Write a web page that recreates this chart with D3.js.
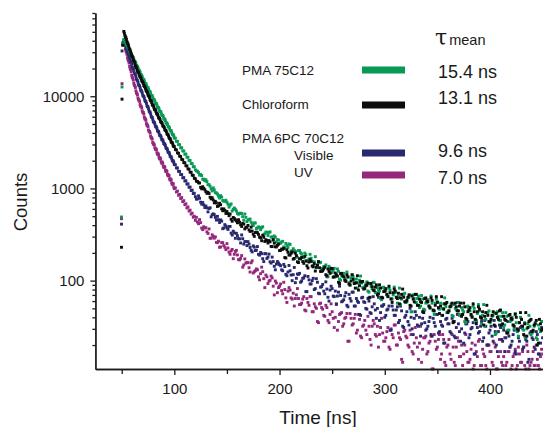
<!DOCTYPE html>
<html>
<head>
<meta charset="utf-8">
<script src="https://cdn.jsdelivr.net/npm/d3@7"></script>
<style>
    html, body { margin: 0; padding: 0; background: #fff; }
    svg { display: block; font-family: "Liberation Sans", Arial, sans-serif; }
    .axis path, .axis line { stroke: #1a1a1a; stroke-width: 1.3; }
    .axis text { font-size: 15px; fill: #1a1a1a; font-family: "Liberation Sans", Arial, sans-serif; }
</style>
</head>
<body>
<div id="chart"></div>
<script>
// time channels (ns): rising edge, 1 ns steps to 200, then even ns
const times = [49.8, 50.3, 51,
    52, 53, 54, 55, 56, 57, 58, 59, 60, 61, 62, 63, 64, 65, 66, 67, 68, 69, 70, 71, 72, 73, 74, 75, 76, 77, 78, 79, 80,
    81, 82, 83, 84, 85, 86, 87, 88, 89, 90, 91, 92, 93, 94, 95, 96, 97, 98, 99, 100, 101, 102, 103, 104, 105, 106, 107,
    108, 109, 110, 111, 112, 113, 114, 115, 116, 117, 118, 119, 120,
    121, 122, 123, 124, 125, 126, 127, 128, 129, 130, 131, 132, 133, 134, 135, 136, 137, 138, 139, 140,
    141, 142, 143, 144, 145, 146, 147, 148, 149, 150, 151, 152, 153, 154, 155, 156, 157, 158, 159, 160,
    161, 162, 163, 164, 165, 166, 167, 168, 169, 170, 171, 172, 173, 174, 175, 176, 177, 178, 179, 180,
    181, 182, 183, 184, 185, 186, 187, 188, 189, 190, 191, 192, 193, 194, 195, 196, 197, 198, 199, 200,
    202, 204, 206, 208, 210, 212, 214, 216, 218, 220, 222, 224, 226, 228, 230, 232, 234, 236, 238, 240,
    242, 244, 246, 248, 250, 252, 254, 256, 258, 260, 262, 264, 266, 268, 270, 272, 274, 276, 278, 280,
    282, 284, 286, 288, 290, 292, 294, 296, 298, 300, 302, 304, 306, 308, 310, 312, 314, 316, 318, 320,
    322, 324, 326, 328, 330, 332, 334, 336, 338, 340, 342, 344, 346, 348, 350, 352, 354, 356, 358, 360,
    362, 364, 366, 368, 370, 372, 374, 376, 378, 380, 382, 384, 386, 388, 390, 392, 394, 396, 398, 400,
    402, 404, 406, 408, 410, 412, 414, 416, 418, 420, 422, 424, 426, 428, 430, 432, 434, 436, 438, 440,
    442, 444, 446, 448, 450];

const greenCounts = [490, 12600, 37000,
    41500, 40200, 37300, 36100, 33500, 32500, 30000, 29200, 27000, 26200, 24100, 23500, 21600, 21100, 19400, 18900, 17300, 16900,
    15500, 15200, 13950, 13700, 12600, 12400, 11350, 11200, 10250, 10100, 9300, 9150, 8420, 8300, 7640, 7520, 6920, 6830, 6280,
    6210, 5700, 5640, 5170, 5120, 4700, 4650, 4260, 4230, 3880, 3840, 3520, 3510, 3250, 3240, 2990, 2980, 2760, 2760, 2550, 2550,
    2350, 2360, 2180, 2180, 2010, 2010, 1860, 1860, 1720, 1720, 1595,
    1546, 1539, 1484, 1394, 1415, 1379, 1257, 1261, 1211, 1244, 1186, 1098, 1099, 1056, 989, 940, 1015, 962, 899, 894,
    870, 826, 787, 835, 805, 739, 728, 727, 745, 709, 674, 627, 658, 679, 569, 593, 614, 595, 571, 536,
    525, 537, 539, 535, 494, 452, 528, 486, 437, 454, 460, 466, 430, 410, 396, 422, 422, 367, 373, 383,
    378, 357, 375, 384, 316, 322, 336, 335, 309, 333, 338, 297, 298, 273, 305, 296, 262, 278, 276, 254,
    263, 232, 253, 230, 247, 208, 213, 183, 212, 200, 181, 199, 165, 172, 175, 145, 182, 148, 156, 135,
    142, 148, 110, 133, 123, 136, 113, 126, 101, 115, 107, 124, 95, 107, 110, 94, 83, 101, 94, 84,
    92, 77, 93, 82, 95, 74, 80, 64, 84, 78, 70, 83, 64, 70, 74, 57, 83, 63, 71, 58,
    65, 70, 46, 64, 58, 68, 53, 63, 48, 58, 53, 68, 47, 57, 59, 49, 42, 56, 52, 46,
    52, 42, 55, 48, 58, 43, 48, 36, 52, 49, 42, 53, 38, 44, 47, 34, 55, 38, 45, 35,
    41, 45, 27, 41, 37, 45, 33, 41, 29, 37, 33, 44, 28, 35, 38, 29, 24, 34, 32, 27,
    32, 24, 33, 28, 36];

const blackCounts = [230, 9300, 35800,
    50500, 45800, 43300, 39100, 37000, 33400, 31700, 28700, 27100, 24700, 23600, 21500, 20500, 18700, 18050, 16600, 16050, 14750,
    14250, 13100, 12680, 11640, 11260, 10330, 10010, 9170, 8890, 8140, 7900, 7270, 7100, 6540, 6370, 5880, 5750, 5310, 5200,
    4800, 4700, 4340, 4250, 3920, 3840, 3550, 3470, 3205, 3140, 2900, 2840, 2645, 2615, 2435, 2405, 2245, 2220, 2070, 2050,
    1910, 1895, 1765, 1750, 1630, 1615, 1505, 1495, 1395, 1385, 1290, 1275,
    1197, 1192, 1152, 1146, 1028, 990, 1044, 1002, 968, 924, 884, 908, 881, 803, 771, 794, 750, 698, 724, 696,
    638, 649, 691, 666, 601, 573, 600, 578, 536, 562, 534, 506, 527, 463, 441, 484, 474, 457, 444, 424,
    458, 430, 404, 387, 418, 410, 364, 377, 380, 397, 355, 342, 380, 345, 319, 302, 332, 336, 331, 317,
    296, 291, 271, 310, 295, 266, 278, 272, 256, 272, 264, 235, 234, 279, 255, 233, 232, 241, 249, 212,
    220, 224, 176, 203, 189, 204, 174, 187, 157, 173, 161, 183, 145, 159, 162, 141, 127, 147, 138, 126,
    134, 116, 134, 120, 135, 110, 116, 96, 119, 112, 101, 116, 92, 99, 103, 83, 113, 88, 97, 81,
    88, 94, 66, 86, 78, 90, 72, 83, 65, 77, 71, 87, 63, 74, 77, 64, 56, 71, 66, 59,
    66, 54, 68, 59, 71, 54, 59, 46, 64, 60, 53, 65, 48, 54, 58, 44, 67, 49, 56, 45,
    52, 57, 36, 52, 47, 57, 43, 52, 38, 48, 43, 56, 38, 46, 49, 39, 33, 45, 42, 36,
    42, 33, 44, 38, 48, 34, 38, 27, 42, 39, 33, 43, 30, 35, 38, 26, 45, 31, 37, 28,
    33, 37, 21, 34, 30];

const blueCounts = [410, 31000, 38000,
    40300, 38300, 34300, 32500, 29000, 27600, 24600, 23400, 20800, 19950, 17900, 17150, 15400, 14780, 13380, 12950, 11720, 11360,
    10270, 9960, 9010, 8730, 7890, 7660, 6920, 6720, 6060, 5890, 5320, 5210, 4740, 4650, 4230, 4150, 3790, 3730, 3410, 3360,
    3070, 3030, 2760, 2720, 2490, 2450, 2240, 2205, 2015, 1985, 1815, 1805, 1670, 1665, 1535, 1530, 1415, 1415, 1305, 1310,
    1205, 1210, 1115, 1120, 1030, 1035, 950, 958, 880, 887, 815,
    766, 770, 831, 782, 710, 675, 704, 663, 621, 645, 616, 557, 605, 617, 492, 519, 530, 520, 485, 454,
    498, 458, 427, 456, 442, 366, 373, 405, 391, 373, 359, 387, 387, 328, 312, 344, 329, 288, 326, 307,
    285, 284, 256, 313, 285, 249, 265, 265, 240, 265, 249, 229, 213, 205, 238, 231, 212, 214, 234, 193,
    189, 202, 196, 173, 161, 196, 196, 174, 180, 194, 160, 155, 180, 161, 143, 131, 151, 161, 155, 149,
    131, 150, 117, 124, 128, 100, 139, 106, 117, 96, 106, 113, 76, 102, 92, 106, 82, 96, 72, 86,
    77, 97, 66, 79, 82, 67, 56, 75, 69, 60, 68, 54, 71, 60, 75, 53, 60, 43, 65, 59,
    50, 64, 45, 52, 56, 39, 66, 45, 53, 40, 48, 53, 29, 48, 42, 52, 37, 47, 31, 42,
    36, 50, 30, 39, 42, 32, 25, 39, 35, 30, 36, 26, 39, 32, 43, 28, 33, 21, 38, 34,
    28, 39, 25, 31, 34, 22, 43, 27, 34, 24, 30, 35, 16, 31, 28, 36, 24, 32, 20, 29,
    25, 37, 20, 28, 31, 22, 17, 28, 25, 20, 26, 17, 28, 22, 32, 19, 23, 13, 27, 24,
    19, 28, 16, 21, 24];

const magentaCounts = [470, 13700, 36000,
    38500, 35600, 30900, 28500, 24800, 22900, 19900, 18400, 16000, 15000, 13200, 12450, 10850, 10300, 9150, 8780, 7790, 7500,
    6690, 6400, 5680, 5480, 4850, 4680, 4150, 3990, 3530, 3420, 3020, 2960, 2660, 2620, 2350, 2320, 2090, 2090, 1880, 1880,
    1690, 1700, 1520, 1530, 1370, 1380, 1230, 1240, 1105, 1120, 995, 1015, 915, 935, 843, 862, 778, 797, 720, 737,
    666, 681, 615, 630, 569, 582, 527, 539, 487, 499, 451,
    486, 433, 414, 459, 426, 372, 357, 384, 372, 375, 338, 325, 364, 288, 289, 314, 302, 289, 298, 260,
    258, 268, 230, 232, 259, 258, 240, 230, 217, 252, 226, 204, 193, 210, 218, 173, 193, 207, 213, 190,
    169, 168, 174, 187, 140, 148, 172, 155, 157, 157, 138, 124, 156, 164, 121, 125, 128, 134, 131, 110,
    102, 119, 140, 125, 105, 84, 115, 110, 93, 99, 101, 112, 107, 87, 70, 99, 94, 74, 84, 87,
    78, 96, 65, 77, 79, 63, 53, 70, 64, 55, 63, 48, 64, 54, 67, 46, 52, 36, 56, 51,
    42, 54, 37, 43, 46, 31, 55, 36, 44, 32, 39, 44, 22, 39, 34, 43, 29, 38, 24, 33,
    29, 41, 23, 32, 34, 25, 19, 31, 27, 22, 28, 19, 30, 24, 33, 20, 24, 14, 28, 25,
    20, 29, 17, 21, 24, 14, 32, 18, 24, 16, 21, 25, 11, 22, 19, 26, 16, 23, 12, 20,
    16, 26, 13, 19, 22, 15, 12, 20, 17, 13, 18, 11, 20, 15, 23, 12, 16, 12, 20, 17,
    13, 21, 11, 15, 17, 12, 24, 13, 17, 11, 15, 18, 12, 16, 13, 19, 11, 17, 12, 14,
    12, 20, 12, 15, 16];

// extra half-ns channels on the steep early part of the decay
const halfTimes = [52.5, 53.5, 54.5, 55.5, 56.5, 57.5, 58.5, 59.5, 60.5, 61.5, 62.5, 63.5, 64.5, 65.5, 66.5, 67.5,
    68.5, 69.5, 70.5, 71.5, 72.5, 73.5, 74.5, 75.5, 76.5, 77.5, 78.5, 79.5, 80.5, 81.5, 82.5, 83.5,
    84.5, 85.5, 86.5, 87.5, 88.5, 89.5, 90.5, 91.5, 92.5, 93.5, 94.5, 95.5, 96.5, 97.5, 98.5, 99.5];

const greenHalf = [40600, 39000, 36500, 35000, 32800, 31400, 29400, 28300, 26400, 25300, 23700, 22700, 21200, 20350, 19000, 18200,
    16980, 16270, 15220, 14660, 13740, 13230, 12410, 11950, 11200, 10800, 10130, 9760, 9160, 8840, 8300, 8020,
    7530, 7270, 6830, 6600, 6200, 6000, 5630, 5450, 5110, 4950, 4640, 4490, 4220, 4080, 3830, 3700];

const blackHalf = [48400, 44200, 41400, 37800, 35400, 32350, 30300, 27700, 26050, 24000, 22650, 20900, 19730, 18280, 17430, 16240,
    15480, 14420, 13750, 12810, 12220, 11380, 10850, 10110, 9640, 8980, 8560, 7970, 7630, 7150, 6850, 6420,
    6160, 5780, 5560, 5220, 5030, 4720, 4550, 4270, 4110, 3860, 3710, 3490, 3360, 3150, 3040, 2850];

const blueHalf = [39000, 36500, 33100, 30900, 28050, 26200, 23760, 22200, 20220, 19030, 17400, 16380, 14980, 14160, 13070, 12410,
    11450, 10880, 10040, 9540, 8810, 8360, 7720, 7330, 6770, 6430, 5930, 5640, 5230, 5010, 4660, 4460,
    4160, 3990, 3740, 3590, 3360, 3230, 3030, 2910, 2720, 2620, 2450, 2360, 2205, 2125, 1985, 1915];

const magentaHalf = [37400, 32600, 30100, 26200, 24200, 21050, 19450, 16900, 15750, 13870, 13020, 11450, 10760, 9540, 9110, 8140,
    7790, 6950, 6660, 5930, 5690, 5060, 4860, 4310, 4150, 3690, 3550, 3150, 3050, 2760, 2700, 2440,
    2390, 2170, 2140, 1950, 1930, 1750, 1730, 1580, 1560, 1420, 1400, 1275, 1265, 1150, 1130, 1035];

// odd-ns channels of the tail
const oddTimes = [201, 203, 205, 207, 209, 211, 213, 215, 217, 219, 221, 223, 225, 227, 229, 231, 233, 235, 237, 239,
    241, 243, 245, 247, 249, 251, 253, 255, 257, 259, 261, 263, 265, 267, 269, 271, 273, 275, 277, 279,
    281, 283, 285, 287, 289, 291, 293, 295, 297, 299, 301, 303, 305, 307, 309, 311, 313, 315, 317, 319,
    321, 323, 325, 327, 329, 331, 333, 335, 337, 339, 341, 343, 345, 347, 349, 351, 353, 355, 357, 359,
    361, 363, 365, 367, 369, 371, 373, 375, 377, 379, 381, 383, 385, 387, 389, 391, 393, 395, 397, 399,
    401, 403, 405, 407, 409, 411, 413, 415, 417, 419, 421, 423, 425, 427, 429, 431, 433, 435, 437, 439,
    441, 443, 445, 447, 449];

const greenOdd = [255, 267, 226, 240, 250, 210, 222, 208, 179, 212, 195, 177, 191, 161, 193, 161, 160, 138, 158, 158,
    136, 142, 110, 143, 124, 130, 110, 134, 104, 114, 120, 101, 109, 89, 115, 96, 104, 94, 112, 84,
    86, 97, 75, 87, 96, 74, 84, 77, 62, 85, 77, 68, 79, 63, 85, 66, 68, 55, 70, 73,
    59, 66, 46, 70, 58, 64, 51, 69, 49, 57, 62, 50, 57, 43, 63, 50, 57, 50, 65, 45,
    47, 56, 41, 50, 58, 42, 51, 46, 35, 53, 47, 41, 50, 37, 55, 41, 42, 32, 45, 47,
    37, 42, 26, 46, 37, 41, 31, 45, 29, 36, 40, 30, 35, 25, 40, 30, 35, 30, 42, 26,
    28, 35, 23, 30, 36];

const blackOdd = [213, 219, 178, 216, 190, 198, 171, 199, 160, 172, 179, 154, 163, 137, 168, 144, 153, 140, 161, 126,
    128, 140, 113, 126, 136, 109, 121, 112, 93, 120, 110, 98, 110, 90, 116, 93, 95, 79, 97, 98,
    82, 89, 65, 93, 79, 85, 70, 90, 66, 76, 82, 67, 74, 58, 81, 66, 73, 65, 81, 59,
    61, 70, 53, 63, 71, 54, 63, 58, 45, 65, 59, 51, 61, 47, 67, 51, 53, 42, 56, 58,
    47, 53, 35, 57, 47, 53, 41, 57, 39, 46, 51, 40, 46, 34, 52, 40, 46, 41, 54, 36,
    38, 46, 32, 40, 47, 33, 41, 37, 27, 43, 38, 32, 40, 29, 45, 32, 34, 25, 36, 38,
    29, 34, 20, 38, 29];

const blueOdd = [145, 128, 142, 113, 146, 115, 116, 95, 118, 120, 99, 107, 76, 111, 92, 100, 80, 105, 73, 85,
    91, 72, 81, 60, 87, 68, 77, 68, 87, 59, 62, 74, 52, 64, 75, 53, 64, 58, 42, 66,
    58, 49, 60, 44, 67, 48, 50, 37, 53, 55, 42, 49, 29, 53, 42, 48, 35, 53, 32, 40,
    46, 33, 40, 26, 46, 33, 40, 34, 48, 29, 32, 40, 25, 35, 43, 27, 36, 32, 21, 39,
    34, 27, 36, 24, 43, 28, 30, 21, 34, 36, 26, 31, 16, 36, 27, 32, 22, 37, 20, 27,
    32, 22, 28, 17, 33, 23, 29, 24, 36, 19, 22, 29, 16, 24, 31, 18, 25, 22, 14, 28,
    23, 18, 26, 16, 31];

const magentaOdd = [92, 72, 80, 58, 84, 65, 73, 64, 82, 55, 57, 67, 47, 58, 67, 46, 56, 50, 35, 57,
    49, 41, 51, 35, 56, 39, 40, 29, 43, 45, 34, 40, 22, 44, 33, 39, 27, 43, 25, 32,
    37, 26, 32, 20, 37, 26, 32, 26, 39, 22, 24, 31, 18, 26, 33, 20, 27, 23, 13, 29,
    24, 19, 26, 16, 31, 19, 21, 13, 24, 25, 17, 22, 11, 26, 18, 23, 14, 26, 13, 19,
    23, 14, 19, 12, 24, 15, 20, 16, 26, 13, 14, 21, 12, 17, 22, 12, 18, 15, 11, 20,
    17, 12, 19, 11, 23, 13, 15, 12, 17, 19, 12, 16, 11, 19, 13, 17, 12, 20, 11, 13,
    17, 12, 14, 11, 18];

const xMajorTicks = [100, 200, 300, 400];
const xMinorTicks = [50, 150, 250, 350];
const yMajorTicks = [100, 1000, 10000];

const legendNames = ["PMA 75C12", "Chloroform", "PMA 6PC 70C12", "Visible", "UV"];
const tauLabels = ["15.4 ns", "13.1 ns", "9.6 ns", "7.0 ns"];

(() => {
    const width = 543, height = 427, margin = { top: 13, right: 0.4, bottom: 58, left: 95.4 };

    document.addEventListener("DOMContentLoaded", () => {
        const series = [
            { name: "UV", color: "#93287d", counts: magentaCounts, half: magentaHalf, odd: magentaOdd },
            { name: "Visible", color: "#29296f", counts: blueCounts, half: blueHalf, odd: blueOdd },
            { name: "PMA 75C12", color: "#079a55", counts: greenCounts, half: greenHalf, odd: greenOdd },
            { name: "Chloroform", color: "#0d0d0d", counts: blackCounts, half: blackHalf, odd: blackOdd }
        ];

        const x = d3.scaleLinear()
            .domain([25, 450])
            .range([margin.left, width - margin.right]);

        const y = d3.scaleLog()
            .domain([11, 80000])
            .range([height - margin.bottom, margin.top]);

        const svg = d3.select("#chart")
            .append("svg")
            .attr("width", width)
            .attr("height", height);

        // data points first, axes on top
        const size = 2.9;
        series.forEach(s => {
            const pts = times.map((t, i) => ({ t, v: s.counts[i] }))
                .concat(halfTimes.map((t, i) => ({ t, v: s.half[i] })))
                .concat(oddTimes.map((t, i) => ({ t, v: s.odd[i] })));

            svg.append("g")
                .selectAll("rect")
                .data(pts)
                .enter()
                .append("rect")
                .attr("x", d => x(d.t) - size / 2)
                .attr("y", d => y(d.v) - size / 2)
                .attr("width", size)
                .attr("height", size)
                .attr("fill", s.color);
        });

        // y axis: minor ticks, then major ticks with labels
        const yMinor = y.ticks().filter(v => !yMajorTicks.includes(v) && v >= 11);
        svg.append("g")
            .attr("class", "axis")
            .attr("transform", `translate(${margin.left},0)`)
            .call(d3.axisLeft(y).tickValues(yMinor).tickSize(3).tickSizeOuter(0).tickFormat(""));

        svg.append("g")
            .attr("class", "axis")
            .attr("transform", `translate(${margin.left},0)`)
            .call(d3.axisLeft(y).tickValues(yMajorTicks).tickSize(5).tickSizeOuter(0).tickPadding(6).tickFormat(d3.format("d")));

        // x axis
        svg.append("g")
            .attr("class", "axis")
            .attr("transform", `translate(0,${height - margin.bottom})`)
            .call(d3.axisBottom(x).tickValues(xMinorTicks).tickSize(5).tickSizeOuter(0).tickFormat(""));

        svg.append("g")
            .attr("class", "axis")
            .attr("transform", `translate(0,${height - margin.bottom})`)
            .call(d3.axisBottom(x).tickValues(xMajorTicks).tickSize(6).tickSizeOuter(0).tickPadding(8));

        svg.append("text")
            .attr("x", 318)
            .attr("y", 424)
            .attr("text-anchor", "middle")
            .style("font-size", "19px")
            .attr("fill", "#1a1a1a")
            .text("Time [ns]");

        svg.append("text")
            .attr("transform", "translate(27,202) rotate(-90)")
            .attr("text-anchor", "middle")
            .style("font-size", "18.5px")
            .attr("fill", "#1a1a1a")
            .text("Counts");

        // legend
        const legend = svg.append("g");
        const legendColors = ["#079a55", "#0d0d0d", "#29296f", "#93287d"];
        const barY = [70, 105, 153, 175];
        const nameX = [242, 242, 242, 294, 294];
        const nameY = [75, 109, 143, 160, 177];
        const tauY = [78, 104, 157, 184];

        legend.selectAll(".legend-name")
            .data(legendNames)
            .enter()
            .append("text")
            .attr("class", "legend-name")
            .attr("x", (d, i) => nameX[i])
            .attr("y", (d, i) => nameY[i])
            .style("font-size", "13.5px")
            .attr("fill", "#1a1a1a")
            .text(d => d);

        legend.selectAll(".legend-bar")
            .data(legendColors)
            .enter()
            .append("rect")
            .attr("class", "legend-bar")
            .attr("x", 362)
            .attr("y", (d, i) => barY[i] - 3.5)
            .attr("width", 43)
            .attr("height", 7)
            .attr("fill", d => d);

        legend.selectAll(".legend-tau")
            .data(tauLabels)
            .enter()
            .append("text")
            .attr("class", "legend-tau")
            .attr("x", 438)
            .attr("y", (d, i) => tauY[i])
            .style("font-size", "18px")
            .attr("fill", "#1a1a1a")
            .text(d => d);

        const tau = legend.append("text")
            .attr("x", 435)
            .attr("y", 45)
            .attr("fill", "#1a1a1a");
        tau.append("tspan").style("font-size", "22px").style("font-family", "'DejaVu Serif', serif").text("τ");
        tau.append("tspan").attr("dx", 2).style("font-size", "14.5px").text("mean");
    });
})();
</script>
</body>
</html>
